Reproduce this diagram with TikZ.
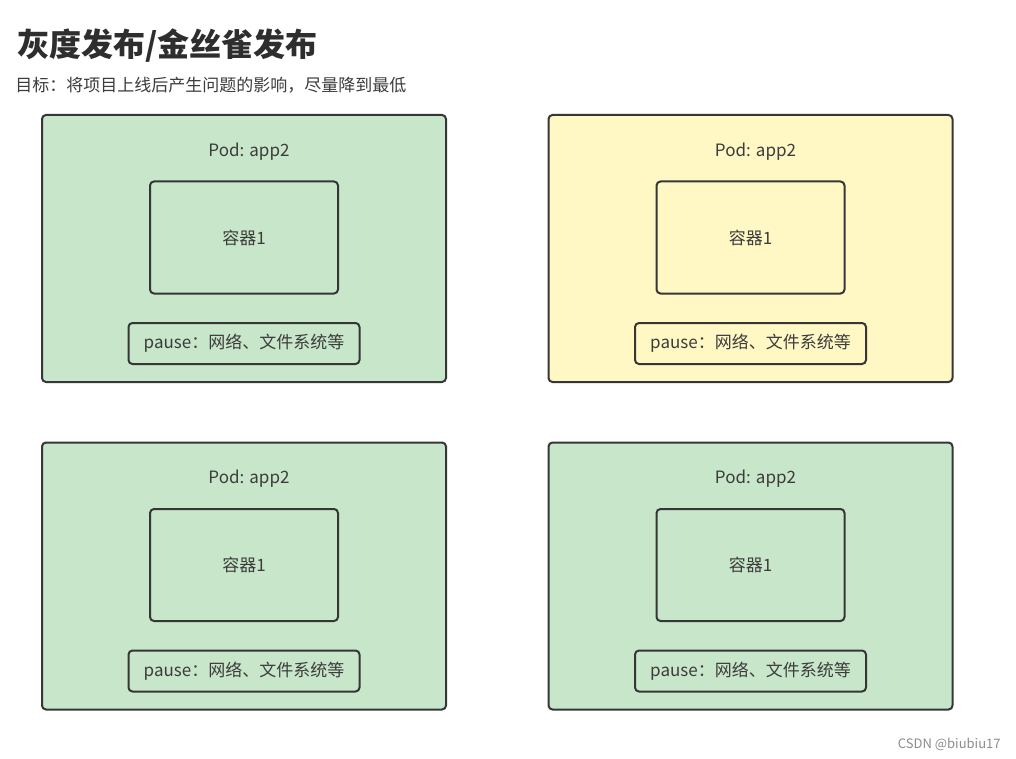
\documentclass[tikz,border=0pt]{standalone}
\usepackage{fontspec}
\setmainfont{Noto Sans CJK SC}
\usetikzlibrary{calc}
\definecolor{podgreen}{HTML}{C8E6C9}
\definecolor{podyellow}{HTML}{FFF8C4}
\definecolor{edgegray}{HTML}{363636}
\definecolor{textgray}{HTML}{3C3C3C}
\tikzset{
  pod/.style={draw=edgegray, line width=1pt, rounded corners=2pt, minimum width=202pt, minimum height=133.5pt, inner sep=0pt},
  container/.style={draw=edgegray, line width=1pt, rounded corners=2pt, minimum width=94pt, minimum height=56pt, inner sep=0pt, text=textgray, font=\fontsize{8.5}{10}\selectfont},
  pausebox/.style={draw=edgegray, line width=1pt, rounded corners=2pt, minimum width=115.5pt, minimum height=20.5pt, inner sep=0pt, text=textgray, font=\fontsize{8.5}{10}\selectfont},
  podlabel/.style={inner sep=0pt, text=textgray, font=\fontsize{8.5}{10}\selectfont}
}
\newcommand{\podbox}[4]{%
  \node[pod, fill=#4] (#1) at (#2,#3) {};
  \node[podlabel] (#1-label) at ($(#1)+(5,-97)$) {Pod: app2};
  \node[container, fill=#4] (#1-box) at ($(#1)+(0,-11)$) {\raisebox{-1pt}{容器1}};
  \node[pausebox, fill=#4] (#1-pause) at ($(#1)+(0,95)$) {\raisebox{-1pt}{pause：网络、文件系统等}};
}

\begin{document}
\begin{tikzpicture}[x=0.5pt, y=-0.5pt]
		%%%%% START %%%%%
		\useasboundingbox[fill=white] (0,0) rectangle (1016,759);
		
		\node[anchor=west, inner sep=0pt, text=black!82, font=\fontsize{16}{18}\selectfont\bfseries] (title) at (17,46) {灰度发布/金丝雀发布};
		\node[anchor=west, inner sep=0pt, text=textgray, font=\fontsize{8.5}{10}\selectfont] (goal) at (15,85) {目标：将项目上线后产生问题的影响，尽量降到最低};
		
		\podbox{podA}{244}{248.5}{podgreen}
		\podbox{podB}{750.5}{248.5}{podyellow}
		\podbox{podC}{244}{576}{podgreen}
		\podbox{podD}{750.5}{576}{podgreen}
		
		\node[anchor=east, inner sep=0pt, text=black!45, font=\fontsize{6.5}{8}\selectfont] (mark) at (1001,744) {CSDN @biubiu17};
		
		%%%%% END %%%%%
	\end{tikzpicture}
\end{document}
